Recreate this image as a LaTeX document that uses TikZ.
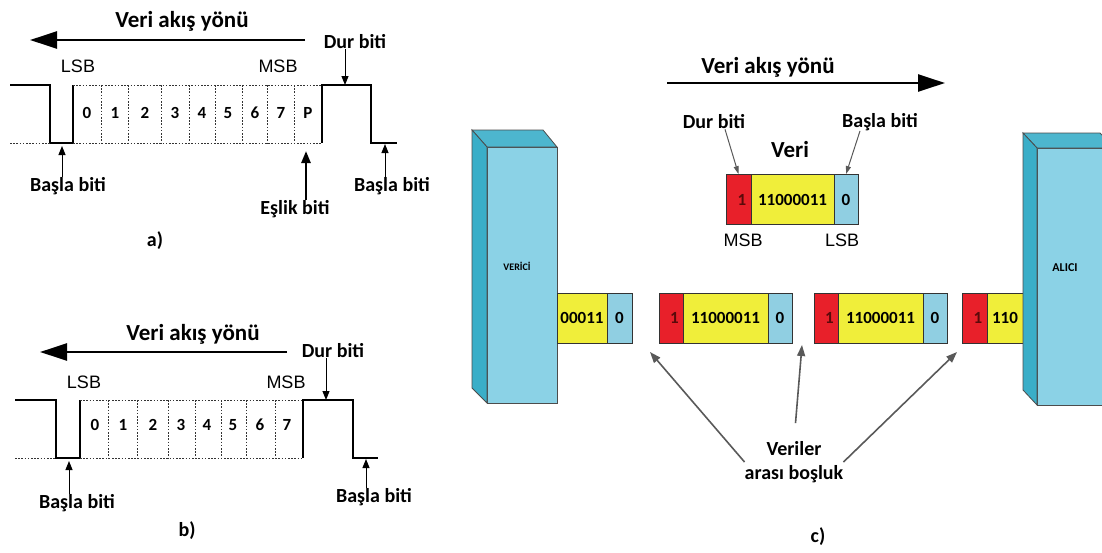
\documentclass[tikz,border=0pt]{standalone}
\usepackage{fontspec}
\setmainfont{Carlito}
\newfontfamily\arialfont{Liberation Sans}
\usetikzlibrary{arrows.meta,positioning}
\definecolor{stopred}{HTML}{E8202A}
\definecolor{datayellow}{HTML}{F0EE3A}
\definecolor{startblue}{HTML}{90CFE2}
\definecolor{boxfront}{HTML}{8BD2E6}
\definecolor{boxside}{HTML}{3AAEC8}
\definecolor{boxtop}{HTML}{4DB6CE}
\definecolor{onered}{HTML}{5A0A0A}
\tikzset{
    lbl/.style={font=\bfseries\fontsize{20}{22}\selectfont, inner sep=0pt},
    ttl/.style={font=\bfseries\fontsize{23}{25}\selectfont, inner sep=0pt},
    sbm/.style={font=\arialfont\fontsize{18}{20}\selectfont, inner sep=0pt},
    digit/.style={font=\bfseries\fontsize{17}{17}\selectfont, inner sep=0pt},
    wave/.style={line width=1.3pt},
    cellgrid/.style={dash pattern=on 1.6pt off 1.6pt, line width=0.9pt, black!80},
    flow/.style={line width=2.5pt, -{Triangle[length=27pt, width=17pt]}},
    ptr/.style={line width=1pt, -{Triangle[length=9pt, width=7pt]}},
    cell/.style={draw=black!80, line width=0.8pt, minimum height=50pt, inner sep=0pt, font=\bfseries\fontsize{17}{17}\selectfont},
    gapptr/.style={line width=1.6pt, black!65, -{Triangle[length=11pt, width=8pt]}},
    thinptr/.style={line width=1pt, black!65, -{Triangle[length=8pt, width=5pt]}},
    prism/.style={draw=black!70, line width=0.8pt}
}
\begin{document}
\begin{tikzpicture}[x=1pt, y=-1pt]
    \useasboundingbox (0,0) rectangle (1102,552);

    % a) frame with parity bit
    \node[ttl] (titleA) at (182,21) {Veri akış yönü};
    \coordinate (flowAs) at (305,40);
    \coordinate (flowAe) at (30,40);
    \draw[flow] (flowAs) -- (flowAe);
    \draw[wave] (10,85) -- (50,85) -- (50,143) -- (73,143) -- (73,85);
    \draw[wave] (322,143) -- (322,85) -- (371,85) -- (371,143) -- (397,143);
    \draw[cellgrid] (73,85) -- (322,85);
    \draw[cellgrid] (10,143) -- (50,143) (73,143) -- (322,143);
    \foreach \x in {101,128,161,189,215,242,267,294}
        \draw[cellgrid] (\x,85) -- (\x,143);
    \foreach \d/\x in {0/87,1/115,2/145,3/175,4/202,5/228,6/255,7/281,P/308}
        \node[digit] (a\d) at (\x,113) {\d};
    \node[sbm] (lsbA) at (78,66) {LSB};
    \node[sbm] (msbA) at (278,66) {MSB};
    \node[lbl] (durA) at (355,42) {Dur biti};
    \coordinate (durAtip) at (345,85);
    \draw[ptr] (durA.south -| durAtip) -- (durAtip);
    \node[lbl] (basA1) at (68,186) {Başla biti};
    \coordinate (basA1tip) at (62,146);
    \draw[ptr] (basA1.north -| basA1tip) -- (basA1tip);
    \node[lbl] (parA) at (295,209) {Eşlik biti};
    \coordinate (parAtip) at (306,151);
    \draw[line width=2.5pt, -{Triangle[length=12pt, width=9pt]}] (parA.north -| parAtip) -- (parAtip);
    \node[lbl] (basA2) at (392,186) {Başla biti};
    \coordinate (basA2tip) at (385,144);
    \draw[ptr] (basA2.north -| basA2tip) -- (basA2tip);
    \node[lbl] (capA) at (155,241) {a)};

    % b) frame without parity bit
    \node[ttl] (titleB) at (193,334) {Veri akış yönü};
    \coordinate (flowBs) at (287,352);
    \coordinate (flowBe) at (40,352);
    \draw[flow] (flowBs) -- (flowBe);
    \draw[wave] (15,400) -- (56,400) -- (56,458) -- (80,458) -- (80,400);
    \draw[wave] (303,458) -- (303,400) -- (353,400) -- (353,458) -- (378,458);
    \draw[cellgrid] (80,400) -- (303,400);
    \draw[cellgrid] (15,458) -- (56,458) (80,458) -- (303,458);
    \foreach \x in {108,137,168,195,221,246,275}
        \draw[cellgrid] (\x,400) -- (\x,458);
    \foreach \d/\x in {0/95,1/123,2/153,3/181,4/207,5/233,6/260,7/287}
        \node[digit] (b\d) at (\x,425) {\d};
    \node[sbm] (lsbB) at (84,382) {LSB};
    \node[sbm] (msbB) at (286,382) {MSB};
    \node[lbl] (durB) at (333,351) {Dur biti};
    \coordinate (durBtip) at (326,400);
    \draw[ptr] (durB.south -| durBtip) -- (durBtip);
    \node[lbl] (basB1) at (77,503) {Başla biti};
    \coordinate (basB1tip) at (69,461);
    \draw[ptr] (basB1.north -| basB1tip) -- (basB1tip);
    \node[lbl] (basB2) at (374,497) {Başla biti};
    \coordinate (basB2tip) at (366,459);
    \draw[ptr] (basB2.north -| basB2tip) -- (basB2tip);
    \node[lbl] (capB) at (187,531) {b)};

    % c) transmitter, frames on the line, receiver
    \node[ttl] (titleC) at (768,67) {Veri akış yönü};
    \coordinate (flowCs) at (667,83);
    \coordinate (flowCe) at (945,83);
    \draw[flow] (flowCs) -- (flowCe);
    \node[lbl] (durC) at (714,122) {Dur biti};
    \node[lbl] (basC) at (880,122) {Başla biti};
    \node[ttl] (veri) at (790,150) {Veri};
    \node[cell, fill=stopred, minimum width=25pt, text=onered] (vStop) at (738.5,199.5) {\hspace{7pt}1};
    \node[cell, fill=datayellow, minimum width=83pt] (vData) at (792.5,199.5) {11000011};
    \node[cell, fill=startblue, minimum width=24pt] (vStart) at (846,199.5) {0};
    \node[sbm] (msbC) at (743,240) {MSB};
    \node[sbm] (lsbC) at (842,240) {LSB};
    \draw[thinptr] (durC.south -| 725,0) -- (vStop.north);
    \draw[thinptr] (basC.south -| 860,0) -- (vStart.north);

    % transmitter block
    \draw[prism, fill=boxfront] (487,147) rectangle (557,403);
    \draw[prism, fill=boxtop] (472,130) -- (543,130) -- (557,147) -- (487,147) -- cycle;
    \draw[prism, fill=boxside] (472,130) -- (487,147) -- (487,403) -- (472,388) -- cycle;
    \node[font=\bfseries\fontsize{10}{10}\selectfont] (verici) at (517,266) {VERİCİ};

    % frames on the line
    \node[cell, fill=datayellow, minimum width=50pt] (f1d) at (582,318) {00011};
    \node[cell, fill=startblue, minimum width=25pt] (f1s) at (619.5,318) {0};
    \node[cell, fill=stopred, minimum width=24pt, text=onered] (f2p) at (671,318) {\hspace{7pt}1};
    \node[cell, fill=datayellow, minimum width=85pt] (f2d) at (725.5,318) {11000011};
    \node[cell, fill=startblue, minimum width=24pt] (f2s) at (780,318) {0};
    \node[cell, fill=stopred, minimum width=24pt, text=onered] (f3p) at (826,318) {\hspace{7pt}1};
    \node[cell, fill=datayellow, minimum width=85pt] (f3d) at (880.5,318) {11000011};
    \node[cell, fill=startblue, minimum width=24pt] (f3s) at (935,318) {0};
    \node[cell, fill=stopred, minimum width=25pt, text=onered] (f4p) at (974.5,318) {\hspace{7pt}1};
    \node[cell, fill=datayellow, minimum width=36pt] (f4d) at (1005,318) {110};

    % receiver block
    \draw[prism, fill=boxfront] (1037,148) rectangle (1114,405);
    \draw[prism, fill=boxtop] (1023,133) -- (1100,133) -- (1114,148) -- (1037,148) -- cycle;
    \draw[prism, fill=boxside] (1023,133) -- (1037,148) -- (1037,405) -- (1023,390) -- cycle;
    \node[font=\bfseries\fontsize{12}{12}\selectfont] (alici) at (1065,268) {ALICI};

    % gaps between frames
    \node[lbl, align=center] (gap) at (794,462) {Veriler\\[2pt]arası boşluk};
    \coordinate (gap1) at (650,352);
    \coordinate (gap2) at (802,345);
    \coordinate (gap3) at (957,352);
    \draw[gapptr] (gap.west) -- (gap1);
    \draw[gapptr, shorten <=18pt] (gap.north) -- (gap2);
    \draw[gapptr] (gap.east) -- (gap3);
    \node[lbl] (capC) at (818,537) {c)};
\end{tikzpicture}
\end{document}
